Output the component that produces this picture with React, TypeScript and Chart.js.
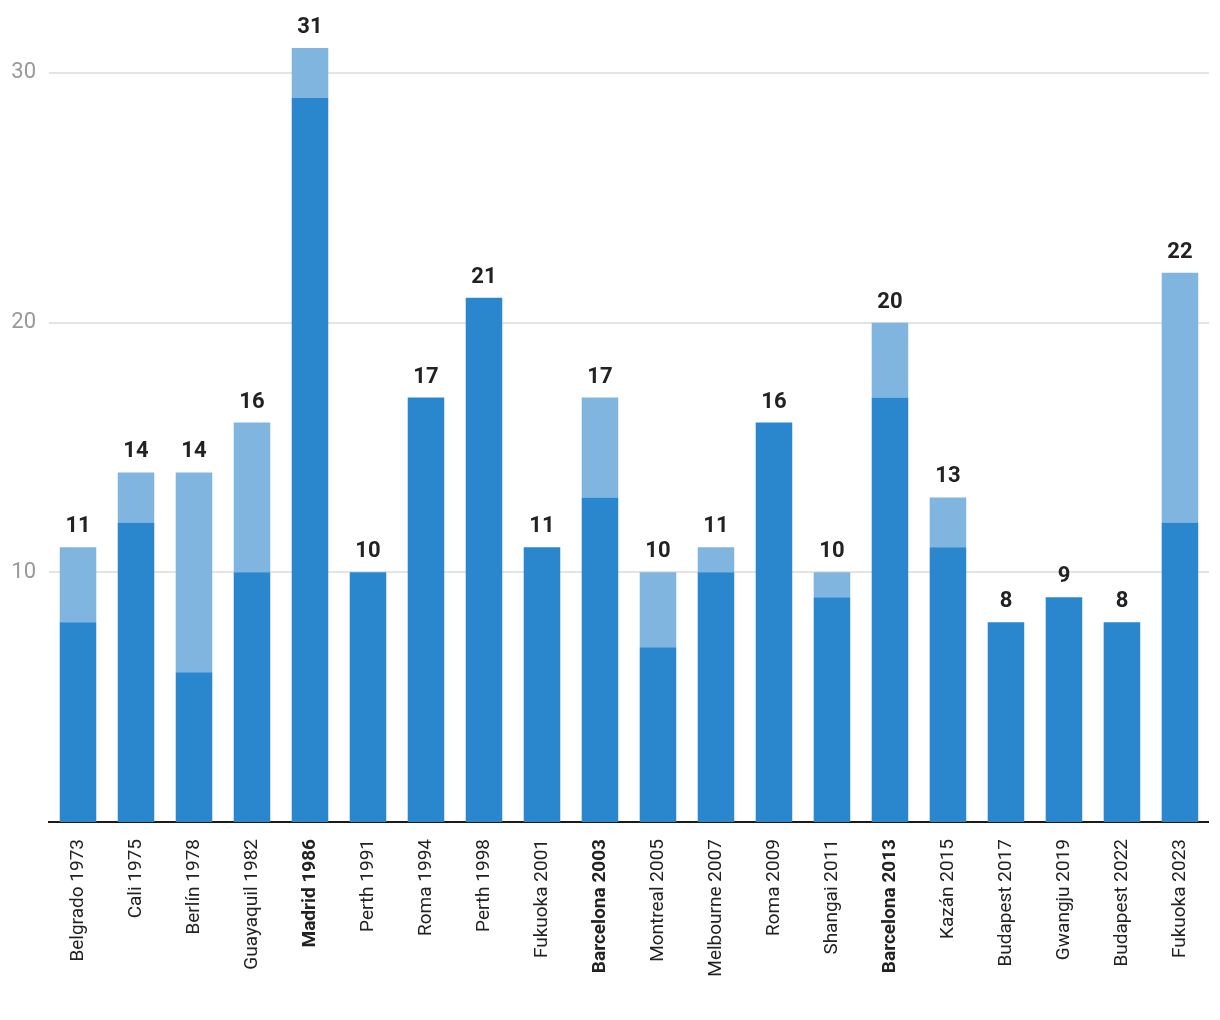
import React, { useEffect, useRef } from "react";
import { Chart, registerables } from "chart.js";

Chart.register(...registerables);

const categories = [
  "Belgrado 1973", "Cali 1975", "Berlín 1978", "Guayaquil 1982", "Madrid 1986",
  "Perth 1991", "Roma 1994", "Perth 1998", "Fukuoka 2001", "Barcelona 2003",
  "Montreal 2005", "Melbourne 2007", "Roma 2009", "Shangai 2011", "Barcelona 2013",
  "Kazán 2015", "Budapest 2017", "Gwangju 2019", "Budapest 2022", "Fukuoka 2023",
];
const boldCategories = ["Madrid 1986", "Barcelona 2003", "Barcelona 2013"];
const darkValues = [8, 12, 6, 10, 29, 10, 17, 21, 11, 13, 7, 10, 16, 9, 17, 11, 8, 9, 8, 12];
const lightValues = [3, 2, 8, 6, 2, 0, 0, 0, 0, 4, 3, 1, 0, 1, 3, 2, 0, 0, 0, 10];
const yTicks = [10, 20, 30];

const totalsPlugin = {
  id: "totals",
  afterDatasetsDraw(chart: any) {
    const ctx = chart.ctx;
    const meta = chart.getDatasetMeta(1);
    const yScale = chart.scales.y;
    ctx.save();
    ctx.font = "bold 22px Roboto";
    ctx.fillStyle = "#222222";
    ctx.textAlign = "center";
    ctx.textBaseline = "alphabetic";
    categories.forEach((_, i) => {
      const total = darkValues[i] + lightValues[i];
      const x = meta.data[i].x;
      const y = yScale.getPixelForValue(total);
      ctx.fillText(String(total), x, y - 15);
    });
    ctx.restore();
  },
};

export default function App() {
  const ref = useRef<HTMLCanvasElement>(null);
  useEffect(() => {
    if (!ref.current) return;
    const chart = new Chart(ref.current, {
      type: "bar",
      data: {
        labels: categories,
        datasets: [
          { data: darkValues, backgroundColor: "#2a87cd", borderWidth: 0 },
          { data: lightValues, backgroundColor: "#80b5df", borderWidth: 0 },
        ],
      },
      options: {
        animation: false,
        responsive: true,
        maintainAspectRatio: false,
        layout: { padding: { top: 48, right: 10, left: 0, bottom: 0 } },
        datasets: { bar: { categoryPercentage: 1, barPercentage: 0.63 } },
        plugins: { legend: { display: false }, tooltip: { enabled: false } },
        scales: {
          x: {
            stacked: true,
            grid: { display: false, drawTicks: false },
            border: { display: true, color: "#1a1a1a", width: 2 },
            ticks: {
              minRotation: 90,
              maxRotation: 90,
              autoSkip: false,
              padding: 17,
              color: "#222222",
              font: (ctx: any) => ({
                family: "Roboto",
                size: 19,
                weight: boldCategories.includes(categories[ctx.index]) ? "bold" : "normal",
              }),
            },
            afterFit: (scale: any) => {
              scale.height = 198;
            },
          },
          y: {
            stacked: true,
            min: 0,
            max: 31,
            border: { display: false },
            grid: { color: "#e4e4e4", lineWidth: 2, drawTicks: false },
            ticks: {
              padding: 13,
              color: "#999999",
              font: { family: "Roboto", size: 22 },
            },
            afterBuildTicks: (scale: any) => {
              scale.ticks = yTicks.map((v) => ({ value: v }));
            },
            afterFit: (scale: any) => {
              scale.width = 49;
            },
          },
        },
      },
      plugins: [totalsPlugin],
    });
    return () => chart.destroy();
  }, []);
  return (
    <div style={{ position: "fixed", left: 0, top: 0, width: 1220, height: 1020 }}>
      <canvas ref={ref} />
    </div>
  );
}
